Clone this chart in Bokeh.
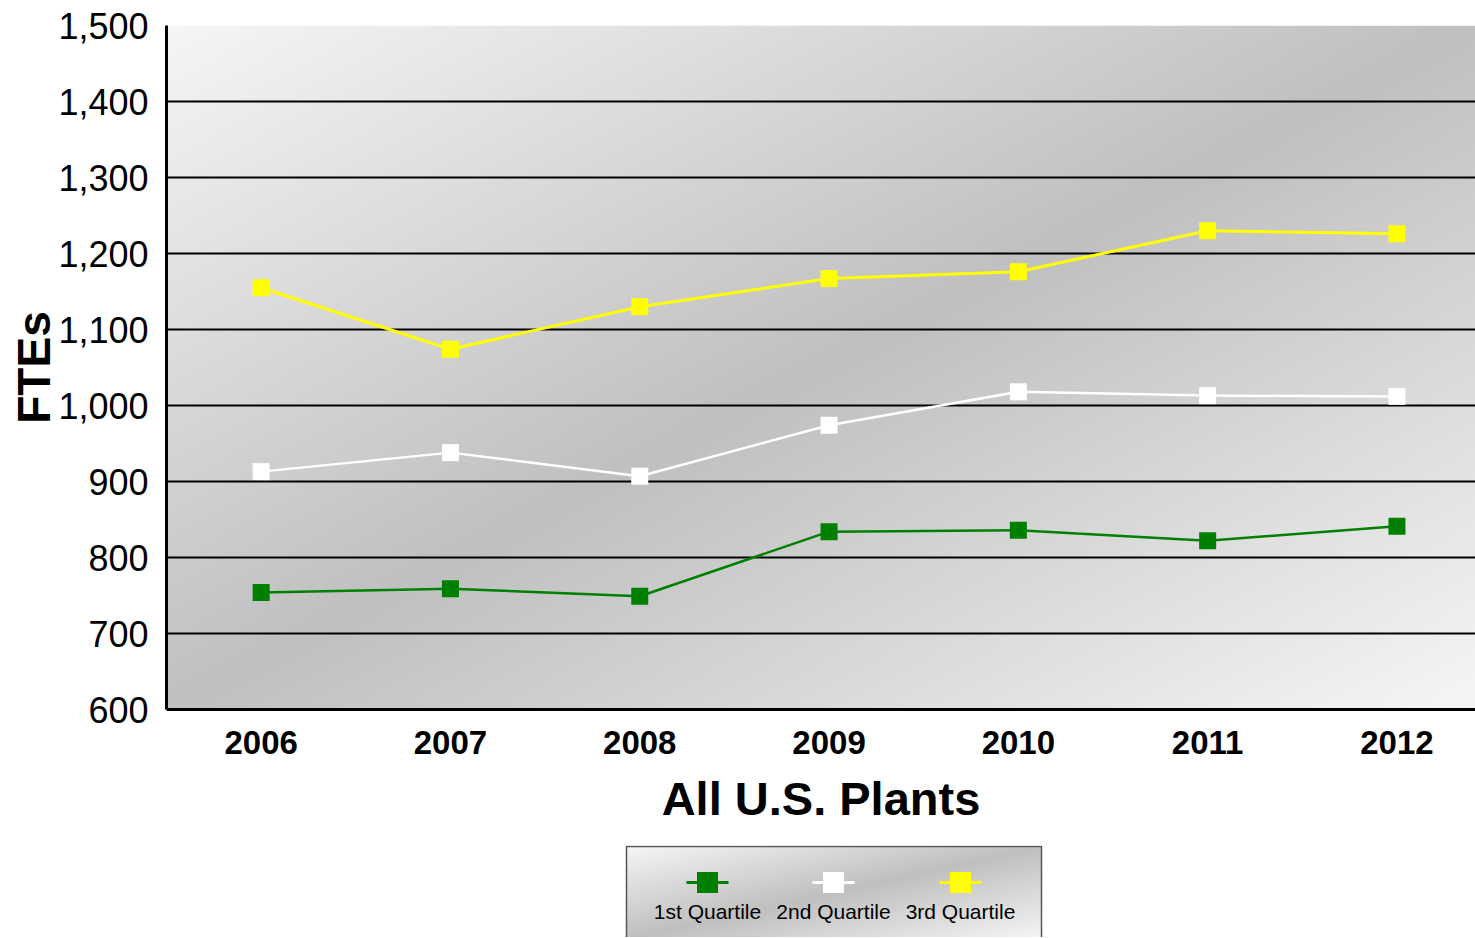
import numpy as np
from bokeh.plotting import figure
from bokeh.layouts import column
from bokeh.models import Range1d, FixedTicker, NumeralTickFormatter
from bokeh.core.properties import value
from bokeh.embed import file_html
from bokeh.resources import INLINE

years = [2006, 2007, 2008, 2009, 2010, 2011, 2012]
q1 = [754, 759, 749, 834, 836, 822, 841]
q2 = [913, 938, 907, 974, 1018, 1013, 1012]
q3 = [1155, 1074, 1130, 1167, 1176, 1230, 1226]
series_names = ["1st Quartile", "2nd Quartile", "3rd Quartile"]
series_colors = ["#008000", "#FFFFFF", "#FFFF00"]
y_ticks = [600, 700, 800, 900, 1000, 1100, 1200, 1300, 1400, 1500]

FONT = "Liberation Sans"


def gradient(h, w, light=(246, 246, 246), dark=(192, 192, 192)):
    img = np.empty((h, w), dtype=np.uint32)
    view = img.view(dtype=np.uint8).reshape((h, w, 4))
    u = np.linspace(0, 1, w)[None, :]
    vtop = 1 - np.linspace(0, 1, h)[:, None]
    t = (u + vtop) / 2.0
    f = np.abs(2 * t - 1)
    for i in range(3):
        view[:, :, i] = (dark[i] + (light[i] - dark[i]) * f).astype(np.uint8)
    view[:, :, 3] = 255
    return img


W_TOTAL = 1475
LEFT = 166
frame_w = W_TOTAL - LEFT
px_per_year = 189.3
x_start = 2005.5
x_end = x_start + frame_w / px_per_year

p = figure(width=W_TOTAL, height=845, output_backend="svg", toolbar_location=None,
           x_range=Range1d(x_start, x_end), y_range=Range1d(600, 1500),
           min_border_left=LEFT, min_border_right=0, min_border_top=25, min_border_bottom=136)
p.outline_line_color = None
p.background_fill_color = "white"

img = gradient(342, 654)
p.image_rgba(image=[img], x=x_start, y=600, dw=x_end - x_start, dh=900, level="image")

for vals, col in zip([q1, q2, q3], series_colors):
    lw = 3 if col == "#FFFF00" else 2.5
    p.line(years, vals, line_color=col, line_width=lw)
    p.scatter(years, vals, marker="square", size=17, fill_color=col, line_color=None)

p.xgrid.grid_line_color = None
p.ygrid.grid_line_color = "black"
p.ygrid.grid_line_width = 2
p.ygrid.level = "underlay"
p.ygrid.ticker = FixedTicker(ticks=y_ticks)

p.yaxis.ticker = FixedTicker(ticks=y_ticks)
p.yaxis.formatter = NumeralTickFormatter(format="0,0")
p.xaxis.ticker = FixedTicker(ticks=years)

for ax in [p.xaxis[0], p.yaxis[0]]:
    ax.axis_line_color = "black"
    ax.axis_line_width = 3
    ax.major_tick_line_color = None
    ax.minor_tick_line_color = None
    ax.major_tick_out = 0
    ax.major_tick_in = 0

p.yaxis.major_label_text_font = FONT
p.yaxis.major_label_text_font_size = "36px"
p.yaxis.major_label_text_color = "black"
p.yaxis.major_label_standoff = 18
p.yaxis.axis_label = "FTEs"
p.yaxis.axis_label_text_font = FONT
p.yaxis.axis_label_text_font_size = "46px"
p.yaxis.axis_label_text_font_style = "bold"
p.yaxis.axis_label_text_color = "black"
p.yaxis.axis_label_standoff = -5

p.xaxis.major_label_text_font = FONT
p.xaxis.major_label_text_font_size = "33px"
p.xaxis.major_label_text_font_style = "bold"
p.xaxis.major_label_text_color = "black"
p.xaxis.major_label_standoff = 21
p.xaxis.axis_label = "All U.S. Plants"
p.xaxis.axis_label_text_font = FONT
p.xaxis.axis_label_text_font_size = "47px"
p.xaxis.axis_label_text_font_style = "bold"
p.xaxis.axis_label_text_color = "black"
p.xaxis.axis_label_standoff = 15

# Legend strip: a second figure whose frame aligns with the main one.
# Coordinates are page pixels (x from the left edge, y measured up from BOTTOM).
LEG_H = 92
BOTTOM = 845 + LEG_H
leg = figure(width=W_TOTAL, height=LEG_H, output_backend="svg", toolbar_location=None,
             x_range=Range1d(LEFT, LEFT + frame_w), y_range=Range1d(0, LEG_H),
             min_border_left=LEFT, min_border_right=0,
             min_border_top=0, min_border_bottom=0)
leg.axis.visible = False
leg.grid.visible = False
leg.outline_line_color = None
leg.background_fill_color = "white"

box_l, box_r, box_b, box_t = 626, 1041, -2, LEG_H - 1
leg.image_rgba(image=[gradient(LEG_H, box_r - box_l)], x=box_l, y=box_b,
               dw=box_r - box_l, dh=box_t - box_b, level="image")
leg.quad(left=[box_l], right=[box_r], bottom=[box_b], top=[box_t],
         fill_color=None, line_color="#555555", line_width=1.5)

leg_x = [707, 833, 960]
leg_y = BOTTOM - 882
for xc, col, name in zip(leg_x, series_colors, series_names):
    leg.line([xc - 21, xc + 21], [leg_y, leg_y], line_color=col, line_width=3)
    leg.scatter([xc], [leg_y], marker="square", size=21, fill_color=col, line_color=None)
    leg.text([xc], [BOTTOM - 911], text=[name], text_font=value(FONT), text_font_size="21px",
             text_align="center", text_baseline="middle", text_color="black")

layout = column(p, leg, spacing=0)
open("out.html", "w").write(file_html(layout, INLINE))
